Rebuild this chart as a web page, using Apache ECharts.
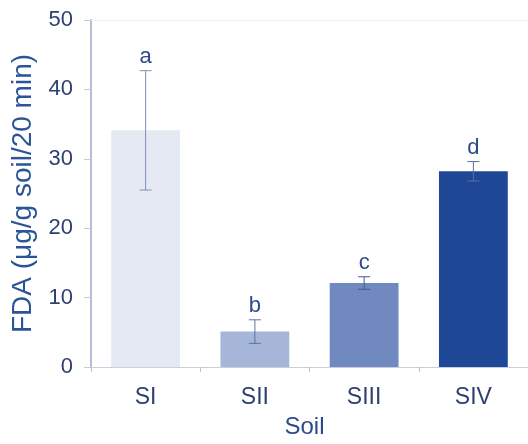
<!DOCTYPE html>
<html>
<head>
<meta charset="utf-8">
<script src="https://cdn.jsdelivr.net/npm/echarts@6/dist/echarts.min.js"></script>
<style>
  html, body { margin: 0; padding: 0; background: #ffffff; }
  #chart { width: 528px; height: 444px; }
</style>
</head>
<body>
<div id="chart"></div>
<script>
// FDA hydrolysis by soil type: mean ± error, with significance letters
const categories = ['SI', 'SII', 'SIII', 'SIV'];
const means = [34.1, 5.1, 12.1, 28.2];
const errors = [8.6, 1.7, 0.9, 1.4];
const letters = ['a', 'b', 'c', 'd'];
const yTicks = [0, 10, 20, 30, 40, 50];

const barColors = ['#e5e9f3', '#a5b6d9', '#7089bf', '#1e4896'];
const errColors = ['#7f90b6', '#5d74a8', '#3d5a98', '#5a6f9f'];
const font = 'Liberation Sans, Arial, Helvetica, sans-serif';
const textColor = '#2e3f70';

const chart = echarts.init(document.getElementById('chart'), null, { renderer: 'canvas' });

const errData = means.map((m, i) => [i, m - errors[i], m + errors[i]]);

chart.setOption({
  animation: false,
  backgroundColor: '#ffffff',
  grid: { left: 91, top: 20, width: 442, height: 352, containLabel: false },
  xAxis: [{
    type: 'category',
    data: categories,
    name: 'Soil',
    nameLocation: 'middle',
    nameGap: 48,
    nameTextStyle: { fontFamily: font, fontSize: 24, color: '#2c4b8c', padding: [0, 10, 0, 0] },
    axisLine: { lineStyle: { color: '#c9cfdf', width: 1 } },
    axisTick: { show: true, alignWithLabel: false, length: 5, lineStyle: { color: '#b9c1d6' } },
    axisLabel: { fontFamily: font, fontSize: 23, color: textColor, margin: 19 },
    splitLine: { show: false }
  }, {
    type: 'category',
    data: categories,
    position: 'top',
    axisLine: { show: true, lineStyle: { color: '#f0f0f0', width: 1 } },
    axisTick: { show: false },
    axisLabel: { show: false }
  }],
  yAxis: {
    type: 'value',
    min: 0,
    max: 50,
    interval: 10,
    name: 'FDA (\u03bcg/g soil/20 min)',
    nameLocation: 'middle',
    nameGap: 52,
    nameTextStyle: { fontFamily: font, fontSize: 28, color: '#2c5597' },
    axisLine: { show: true, lineStyle: { color: '#b3bdd8', width: 2 } },
    axisTick: { show: true, length: 7, lineStyle: { color: '#c3cadd' } },
    axisLabel: {
      fontFamily: font, fontSize: 22, color: textColor, margin: 18,
      formatter: v => (yTicks.includes(v) ? String(v) : '')
    },
    splitLine: { show: false }
  },
  series: [{
    type: 'bar',
    data: means.map((v, i) => ({ value: v, itemStyle: { color: barColors[i] } })),
    barWidth: '63%',
    z: 2
  }, {
    type: 'custom',
    z: 3,
    data: errData,
    renderItem: function (params, api) {
      const i = api.value(0);
      const lo = api.coord([i, api.value(1)]);
      const hi = api.coord([i, api.value(2)]);
      const cap = 6;
      const stroke = { stroke: errColors[i], lineWidth: 1 };
      return {
        type: 'group',
        children: [
          { type: 'line', shape: { x1: hi[0], y1: hi[1], x2: lo[0], y2: lo[1] }, style: stroke },
          { type: 'line', shape: { x1: hi[0] - cap, y1: hi[1], x2: hi[0] + cap, y2: hi[1] }, style: stroke },
          { type: 'line', shape: { x1: lo[0] - cap, y1: lo[1], x2: lo[0] + cap, y2: lo[1] }, style: stroke },
          {
            type: 'text',
            style: {
              x: hi[0], y: hi[1] - 3,
              text: letters[i],
              fill: '#2c4b8c',
              font: '22px ' + font,
              textAlign: 'center',
              textVerticalAlign: 'bottom'
            }
          }
        ]
      };
    }
  }]
});
</script>
</body>
</html>
